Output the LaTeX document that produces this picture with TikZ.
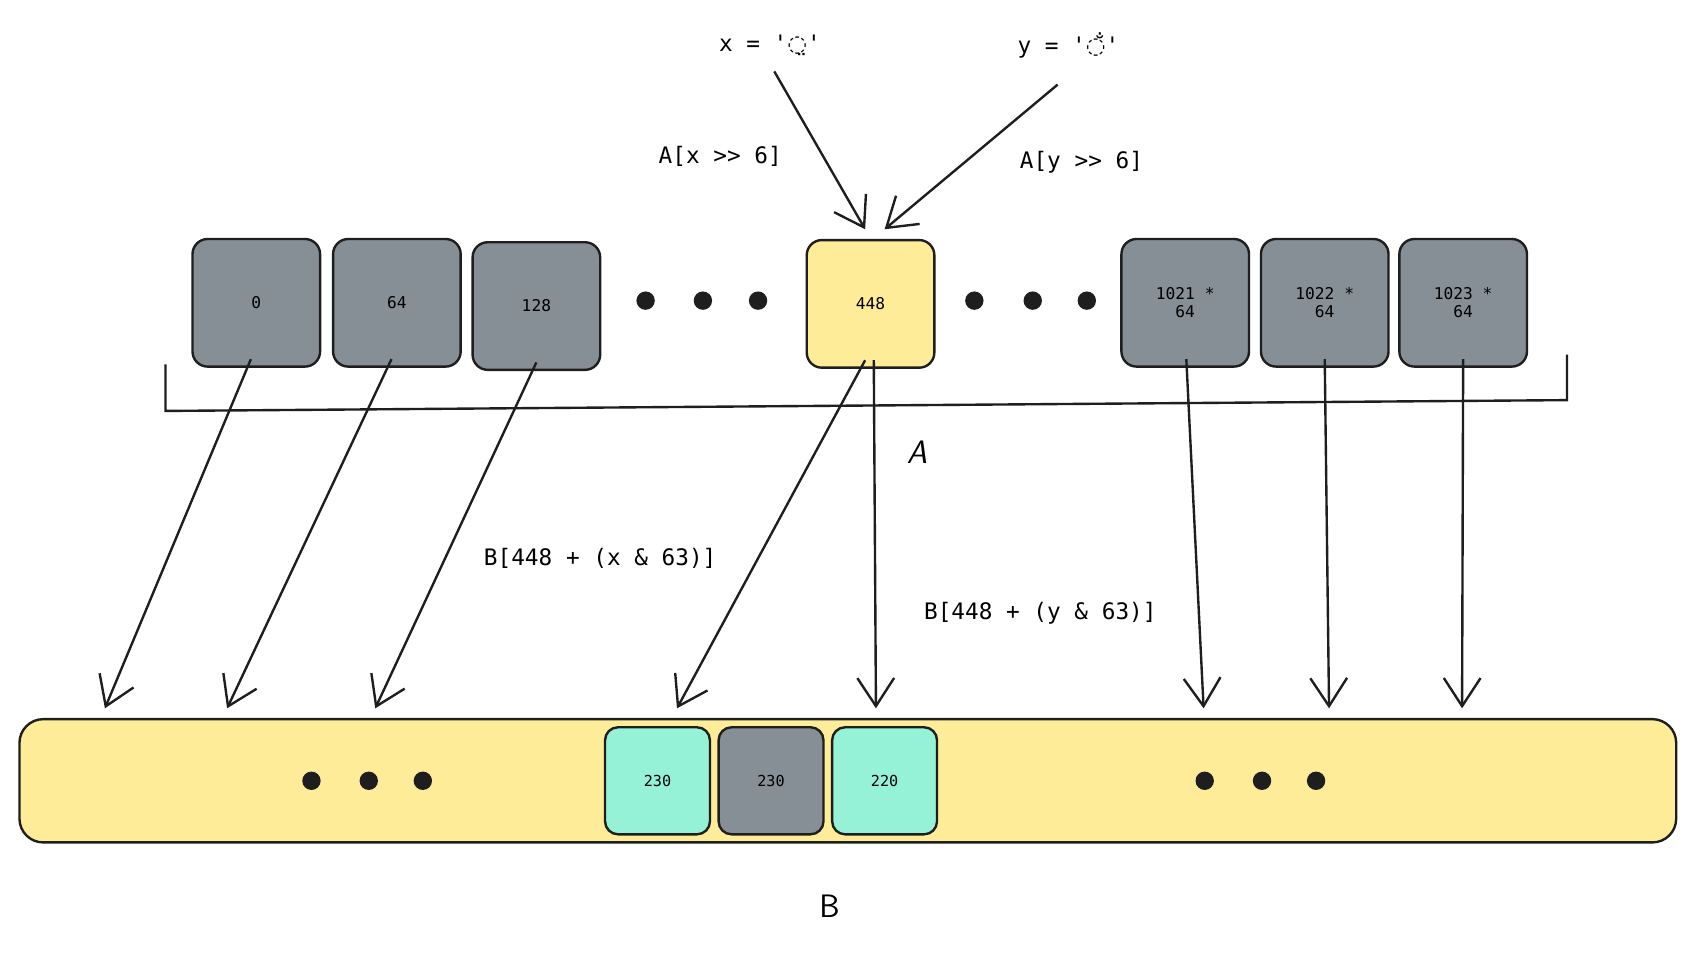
\documentclass[tikz,border=0pt]{standalone}
\usepackage{fontspec}
\setmonofont{DejaVu Sans Mono}
\newfontfamily\symfont{DejaVu Sans}
\usetikzlibrary{arrows.meta}
\definecolor{cellgray}{HTML}{868E96}
\definecolor{cellyellow}{HTML}{FFEC99}
\definecolor{cellteal}{HTML}{96F2D7}
\definecolor{inkline}{HTML}{1E1E1E}
\tikzset{every picture/.style={line width=2.2pt}}
\tikzset{
  cell/.style={draw=inkline, rounded corners=14pt, minimum width=118pt, minimum height=118pt, font=\ttfamily\fontsize{15}{17}\selectfont, align=center},
  smallcell/.style={draw=inkline, rounded corners=12pt, minimum width=97pt, minimum height=99pt, font=\ttfamily\fontsize{14}{16}\selectfont},
  dot/.style={fill=inkline, circle, inner sep=0pt, minimum size=17pt},
  lab/.style={font=\ttfamily\fontsize{21}{24}\selectfont},
  arr/.style={draw=inkline, -{Straight Barb[length=26pt,width=34pt,line width=2.2pt]}}
}

\begin{document}
\begin{tikzpicture}[x=1pt,y=1pt,yscale=-1]
\useasboundingbox[fill=white] (0,0) rectangle (1560,886);

%Array B
\node[draw=inkline, fill=cellyellow, rounded corners=22pt, minimum width=1532pt, minimum height=114pt] (bArr) at (784,722) {};
\node[smallcell, fill=cellteal] (b1) at (608,722) {230};
\node[smallcell, fill=cellgray] (b2) at (713,722) {230};
\node[smallcell, fill=cellteal] (b3) at (818,722) {220};
\foreach \px [count=\i] in {288,341,391,1114,1167,1217}
  \node[dot] (bd\i) at (\px,722) {};
\node[font=\sffamily\fontsize{30}{34}\selectfont] (bLab) at (767,838) {B};

%Array A
\node[cell, fill=cellgray] (a0) at (237,280) {0};
\node[cell, fill=cellgray] (a1) at (367,280) {64};
\node[cell, fill=cellgray] (a2) at (496,283) {128};
\node[cell, fill=cellyellow] (a7) at (805,281) {448};
\node[cell, fill=cellgray] (a21) at (1096,280) {1021 *\\64};
\node[cell, fill=cellgray] (a22) at (1225,280) {1022 *\\64};
\node[cell, fill=cellgray] (a23) at (1353,280) {1023 *\\64};
\foreach \px [count=\i] in {597,650,701,901,955,1005}
  \node[dot] (ad\i) at (\px,278) {};

%Bracket
\draw[inkline] (153,337) -- (153,380) -- (1449,370) -- (1449,328);
\node[font=\sffamily\itshape\fontsize{30}{34}\selectfont] (aLab) at (848,418) {A};

%Inputs
\node[lab] (xIn) at (712,42) {x = '{\symfont ◌̤}'};
\node[lab] (yIn) at (988,42) {y = '{\symfont ◌̐}'};
\coordinate (xTip) at (800,212);
\coordinate (yTip) at (818,212);
\draw[arr] (xIn.south) ++(4,10) -- (xTip);
\draw[arr] (yIn.south) ++(-10,20) -- (yTip);
\node[lab] (xLab) at (666,145) {A[x >> 6]};
\node[lab] (yLab) at (1000,150) {A[y >> 6]};

%A to B
\foreach \src/\sx/\tx [count=\i] in {a0/-5/97, a1/-5/210, a2/0/347, a7/-5/626, a7/3/810, a21/1/1113, a22/0/1229, a23/0/1352}{
  \coordinate (end\i) at (\tx,655);
  \draw[arr] ([xshift=\sx pt, yshift=-8pt]\src.south) -- (end\i);
}
\node[lab] (bxLab) at (555,516) {B[448 + (x \& 63)]};
\node[lab] (byLab) at (962,567) {B[448 + (y \& 63)]};

\end{tikzpicture}
\end{document}
